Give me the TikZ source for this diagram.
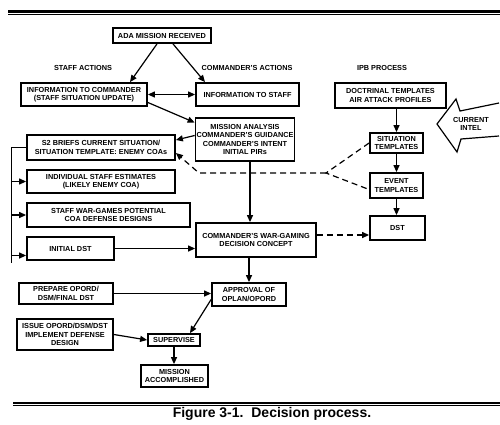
\documentclass[tikz,border=0pt]{standalone}
\usepackage{fontspec}
\setmainfont{Liberation Sans}
\usetikzlibrary{arrows.meta}

\begin{document}
\begin{tikzpicture}[x=1pt,y=-1pt,
  boite/.style={draw,line width=1.8pt,align=center,inner sep=1pt,font=\fontsize{7.3}{8.3}\selectfont\bfseries},
  titre/.style={font=\fontsize{7.3}{8.3}\selectfont\bfseries},
  fleche/.style={line width=1.2pt,-{Triangle[length=7pt,width=6pt]}},
  tirets/.style={line width=1.2pt,dash pattern=on 6pt off 4pt}]
\useasboundingbox (0,0) rectangle (500,424);

% Filets haut et bas
\draw[line width=2.6pt] (8,11.3) -- (500,11.3);
\draw[line width=0.6pt] (8,14) -- (500,14);
\draw[line width=2.4pt] (13,402.8) -- (500,402.8);
\draw[line width=0.6pt] (13,405.6) -- (500,405.6);

% Titres des colonnes
\node[titre] (staff) at (83,68) {STAFF ACTIONS};
\node[titre] (cmdact) at (247,68) {COMMANDER'S ACTIONS};
\node[titre] (ipb) at (382,68) {IPB PROCESS};

% Boites
\node[boite,minimum width=98pt,minimum height=15pt] (ada) at (162,35.5) {ADA MISSION RECEIVED};
\node[boite,minimum width=126pt,minimum height=23pt] (infocmd) at (84,94.5) {INFORMATION TO COMMANDER\\(STAFF SITUATION UPDATE)};
\node[boite,minimum width=103pt,minimum height=23pt] (infostaff) at (247.5,94.5) {INFORMATION TO STAFF};
\node[boite,minimum width=98pt,minimum height=43pt] (mission) at (245,139.5) {MISSION ANALYSIS\\COMMANDER'S GUIDANCE\\COMMANDER'S INTENT\\INITIAL PIRs};
\node[boite,minimum width=111pt,minimum height=25pt] (doctrinal) at (390.5,95.5) {DOCTRINAL TEMPLATES\\AIR ATTACK PROFILES};
\node[boite,minimum width=148pt,minimum height=25pt] (s2) at (101,147.5) {S2 BRIEFS CURRENT SITUATION/\\SITUATION TEMPLATE: ENEMY COAs};
\node[boite,minimum width=148pt,minimum height=23pt] (estimates) at (101,181.5) {INDIVIDUAL STAFF ESTIMATES\\(LIKELY ENEMY COA)};
\node[boite,minimum width=163pt,minimum height=24pt] (wargames) at (108.5,215) {STAFF WAR-GAMES POTENTIAL\\COA DEFENSE DESIGNS};
\node[boite,minimum width=87pt,minimum height=23pt] (initdst) at (70.5,248.5) {INITIAL DST};
\node[boite,minimum width=120pt,minimum height=34pt] (cmdwar) at (256,240) {COMMANDER'S WAR-GAMING\\DECISION CONCEPT};
\node[boite,minimum width=74pt,minimum height=23pt] (approval) at (249,294.5) {APPROVAL OF\\OPLAN/OPORD};
\node[boite,minimum width=94pt,minimum height=21pt] (prepare) at (66,293.5) {PREPARE OPORD/\\DSM/FINAL DST};
\node[boite,minimum width=96pt,minimum height=31pt] (issue) at (65,334.5) {ISSUE OPORD/DSM/DST\\IMPLEMENT DEFENSE\\DESIGN};
\node[boite,minimum width=52pt,minimum height=12pt] (supervise) at (174,340) {SUPERVISE};
\node[boite,minimum width=67pt,minimum height=22pt] (accomplished) at (174.5,376) {MISSION\\ACCOMPLISHED};
\node[boite,minimum width=53pt,minimum height=20pt] (sittemp) at (396.5,143) {SITUATION\\TEMPLATES};
\node[boite,minimum width=53pt,minimum height=25pt] (evttemp) at (396.5,185.5) {EVENT\\TEMPLATES};
\node[boite,minimum width=55pt,minimum height=24pt] (dst) at (397.5,228) {DST};

% Grosse fleche "current intel"
\draw[line width=1.2pt,line join=miter] (499,103) -- (460,111) -- (456,99) -- (437,124) -- (457,152) -- (461,139) -- (499,136);
\node[titre,align=center] (intel) at (471,124) {CURRENT\\INTEL};

% Fleches de la colonne commandant
\draw[fleche] ([xshift=-5pt]ada.south) -- ([xshift=46pt]infocmd.north);
\draw[fleche] ([xshift=11pt]ada.south) -- ([xshift=-42.5pt]infostaff.north);
\draw[fleche,{Triangle[length=7pt,width=6pt]}-{Triangle[length=7pt,width=6pt]}] (infocmd.east) -- (infostaff.west);
\draw[fleche] ([yshift=-8pt]infocmd.east) -- ([yshift=17pt]mission.west);
\draw[fleche] ([yshift=4pt]mission.west) -- ([yshift=7.5pt]s2.east);
\draw[fleche] ([xshift=5pt]mission.south) -- ([xshift=5pt]mission.south |- cmdwar.north);
\draw[fleche] (approval.north |- cmdwar.south) -- (approval.north);

% Actions de l'etat-major
\draw[line width=1.2pt] (s2.west) -- ++(-15,0) coordinate (bus) -- ([yshift=-2pt]bus |- initdst.south);
\draw[fleche] (bus |- estimates.west) -- (estimates.west);
\draw[fleche] (bus |- wargames.west) -- (wargames.west);
\draw[fleche] ([yshift=-7pt]bus |- initdst.west) -- ([yshift=-7pt]initdst.west);
\draw[fleche] (initdst.east) -- (initdst.east -| cmdwar.west);

% Ordres et execution
\draw[fleche] (prepare.east) -- (prepare.east -| approval.west);
\draw[fleche] ([yshift=-5pt]approval.west) -- ([xshift=16pt]supervise.north);
\draw[fleche] (issue.east) -- (supervise.west);
\draw[fleche] (supervise.south) -- (supervise.south |- accomplished.north);

% Processus IPB
\draw[fleche] (sittemp.north |- doctrinal.south) -- (sittemp.north);
\draw[fleche] (sittemp.south) -- (evttemp.north);
\draw[fleche] (evttemp.south) -- (evttemp.south |- dst.north);

% Liaisons en tirets
\coordinate (jonction) at (326,173);
\coordinate (coude) at (199,173);
\coordinate (wgout) at ([yshift=5pt]cmdwar.east);
\draw[tirets] (sittemp.west) -- (jonction) -- ([yshift=-4pt]evttemp.west);
\draw[tirets,-{Triangle[length=7pt,width=6pt]}] (jonction) -- (coude) -- ([yshift=-5.5pt]s2.east);
\draw[tirets,-{Triangle[length=7pt,width=6pt]}] (wgout) -- (wgout -| dst.west);

% Legende
\node[font=\fontsize{14}{16}\selectfont\bfseries] (legende) at (272,414) {Figure 3-1.\ \ Decision process.};
\end{tikzpicture}
\end{document}
